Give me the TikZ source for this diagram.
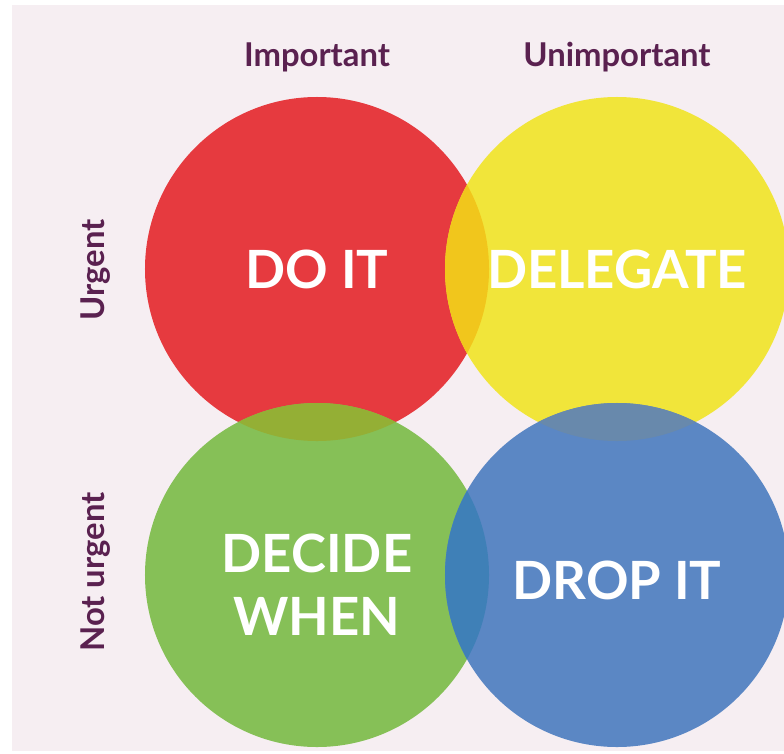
\documentclass[tikz,border=0pt]{standalone}
\usepackage{fontspec}
\setmainfont{Lato}
\definecolor{pagebg}{HTML}{F6EEF2}
\definecolor{axistext}{HTML}{5A2150}
\definecolor{doit}{HTML}{E63A3F}
\definecolor{delegate}{HTML}{F1E53A}
\definecolor{decide}{HTML}{86C057}
\definecolor{dropit}{HTML}{5B87C4}
% overlap colours
\definecolor{lensRY}{HTML}{F1C61C}
\definecolor{lensRG}{HTML}{94AF35}
\definecolor{lensGB}{HTML}{3F80B7}
\definecolor{lensYB}{HTML}{6889AC}
\tikzset{
  quadrant/.style={circle,minimum size=10.32cm,inner sep=0pt,align=center,text=white,
    font=\fontsize{45}{54}\selectfont\bfseries},
  axislabel/.style={text=axistext,font=\fontsize{28}{32}\selectfont\bfseries},
  lens/.style={fill=#1}
}
\begin{document}
\begin{tikzpicture}[x=0.03cm,y=-0.03cm]
  \useasboundingbox (0,0) rectangle (784,753);
  \fill[white] (0,0) rectangle (784,753);
  \fill[pagebg] (12,5) rectangle (784,751);

  \begin{scope}
    \clip (12,5) rectangle (784,751);
    \node[quadrant,fill=doit] (doit) at (317,269) {DO IT};
    \node[quadrant,fill=delegate] (delegate) at (617,269) {};
    \node[quadrant,fill=decide] (decide) at (317,575) {};
    \node[quadrant,fill=dropit] (dropit) at (617,575) {};

    % lenses where two circles meet
    \begin{scope}
      \clip (doit.center) circle (5.16cm);
      \fill[lens=lensRY] (delegate.center) circle (5.16cm);
      \fill[lens=lensRG] (decide.center) circle (5.16cm);
    \end{scope}
    \begin{scope}
      \clip (dropit.center) circle (5.16cm);
      \fill[lens=lensGB] (decide.center) circle (5.16cm);
      \fill[lens=lensYB] (delegate.center) circle (5.16cm);
    \end{scope}

    \node[quadrant] at (delegate.center) {DELEGATE};
    \node[quadrant] at ([yshift=-0.3cm]decide.center) {DECIDE\\WHEN};
    \node[quadrant] at ([yshift=-0.15cm]dropit.center) {DROP IT};
  \end{scope}

  \node[axislabel] (important) at (317,57) {Important};
  \node[axislabel] (unimportant) at (617,57) {Unimportant};
  \node[axislabel,rotate=90] (urgent) at (96,270) {Urgent};
  \node[axislabel,rotate=90] (noturgent) at (96,572) {Not urgent};
\end{tikzpicture}
\end{document}
